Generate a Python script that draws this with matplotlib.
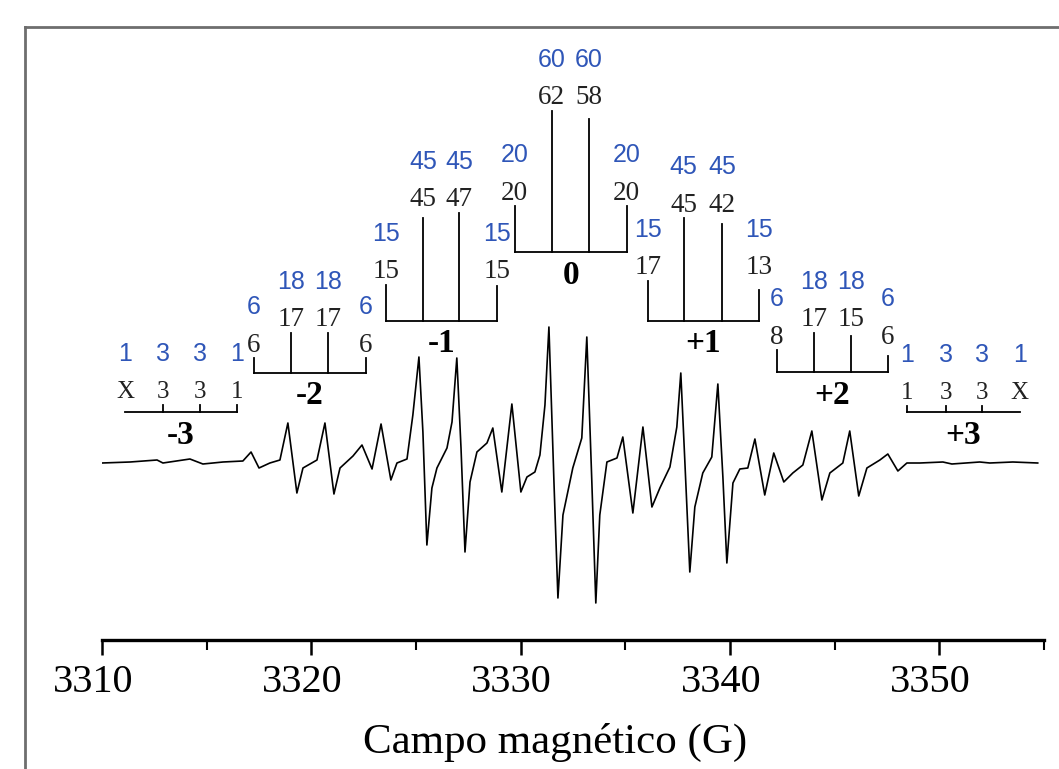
import matplotlib
matplotlib.use("Agg")
import matplotlib.pyplot as plt
from matplotlib.lines import Line2D
from matplotlib.transforms import ScaledTranslation

plt.rcParams['font.family'] = ['Liberation Serif', 'DejaVu Serif']

# espectro: campo (G) y senal (unidades arbitrarias)
campo = [3310.00, 3311.34, 3312.63, 3312.91, 3314.20, 3314.82, 3315.78, 3316.73,
         3317.12, 3317.50, 3318.02, 3318.50, 3318.88, 3319.31, 3319.60, 3320.27,
         3320.65, 3321.08, 3321.37, 3321.99, 3322.42, 3322.90, 3323.33, 3323.80,
         3324.09, 3324.57, 3324.85, 3325.14, 3325.33, 3325.52, 3325.76, 3326.00,
         3326.48, 3326.72, 3326.95, 3327.15, 3327.34, 3327.58, 3327.91, 3328.39,
         3328.67, 3329.10, 3329.58, 3330.01, 3330.30, 3330.68, 3330.92, 3331.16,
         3331.35, 3331.59, 3331.78, 3332.02, 3332.49, 3332.92, 3333.16, 3333.40,
         3333.59, 3333.78, 3334.12, 3334.60, 3334.88, 3335.36, 3335.84, 3336.27,
         3336.65, 3337.13, 3337.46, 3337.65, 3337.84, 3338.08, 3338.32, 3338.70,
         3339.13, 3339.42, 3339.66, 3339.85, 3340.14, 3340.47, 3340.85, 3341.19,
         3341.66, 3342.09, 3342.57, 3343.00, 3343.48, 3343.91, 3344.39, 3344.77,
         3345.39, 3345.72, 3346.15, 3346.54, 3347.16, 3347.54, 3348.02, 3348.45,
         3349.07, 3350.17, 3350.60, 3351.93, 3352.41, 3353.51, 3354.70]
senal = [0, 1, 3, 0, 4, -1, 1, 2,
         11, -5, 0, 3, 40, -30, -5, 3,
         40, -31, -5, 7, 18, -6, 39, -17,
         0, 4, 48, 106, 31, -82, -25, -5,
         15, 41, 105, 15, -89, -19, 11, 20,
         35, -29, 59, -29, -14, -9, 8, 58,
         136, -19, -135, -52, -5, 25, 126, -19,
         -140, -52, 1, 5, 26, -50, 36, -44,
         -25, -4, 36, 90, 3, -109, -44, -10,
         6, 79, -14, -100, -20, -6, -5, 24,
         -32, 10, -19, -10, -2, 32, -37, -10,
         0, 32, -33, -5, 3, 9, -8, 0,
         0, 1, -1, 1, 0, 1, 0]

# diagramas de barras
grupos = ['-3', '-2', '-1', '0', '+1', '+2', '+3']
pos_g3m = [3311.10, 3312.91, 3314.68, 3316.45]
pos_g2m = [3317.26, 3319.03, 3320.79, 3322.61]
pos_g1m = [3323.56, 3325.33, 3327.05, 3328.86]
pos_g0 = [3329.72, 3331.49, 3333.26, 3335.07]
pos_g1p = [3336.07, 3337.79, 3339.61, 3341.38]
pos_g2p = [3342.24, 3344.00, 3345.77, 3347.54]
pos_g3p = [3348.45, 3350.31, 3352.03, 3353.84]
posiciones = [pos_g3m, pos_g2m, pos_g1m, pos_g0, pos_g1p, pos_g2p, pos_g3p]
base_barra = [51, 90, 142, 211, 142, 91, 51]
alturas = [[0, 7, 7, 7], [15, 40, 40, 15], [36, 103, 108, 35], [46, 141, 133, 46],
           [40, 103, 97, 31], [22, 39, 36, 16], [6, 6, 6, 0]]
experimental = [['X', '3', '3', '1'], ['6', '17', '17', '6'], ['15', '45', '47', '15'],
                ['20', '62', '58', '20'], ['17', '45', '42', '13'], ['8', '17', '15', '6'],
                ['1', '3', '3', 'X']]
teorico = [['1', '3', '3', '1'], ['6', '18', '18', '6'], ['15', '45', '45', '15'],
           ['20', '60', '60', '20'], ['15', '45', '45', '15'], ['6', '18', '18', '6'],
           ['1', '3', '3', '1']]

azul = '#2f56b8'

fig = plt.figure(figsize=(10.59, 7.69), dpi=100)
ax = fig.add_axes([102 / 1059, 129 / 769, 942 / 1059, 613 / 769])

ax.plot(campo, senal, color='black', lw=1.2)

for i, g in enumerate(grupos):
    p = posiciones[i]
    b = base_barra[i]
    h = alturas[i]
    ax.plot([p[0], p[-1]], [b, b], color='black', lw=1.3)
    for x, hh in zip(p, h):
        if hh > 0:
            ax.plot([x, x], [b, b + hh], color='black', lw=1.3)
    top_ext = b + max(h[0], h[3])
    top_int = b + max(h[1], h[2])
    tops = [top_ext, top_int, top_int, top_ext]
    fs = 18 if g in ('-3', '+3') else 19.5
    for j in range(4):
        ax.text(p[j], tops[j] + 13, experimental[i][j], fontsize=fs,
                ha='center', va='center', color='#222222')
        ax.text(p[j], tops[j] + 51, teorico[i][j], fontsize=18,
                ha='center', va='center', color=azul,
                family=['Liberation Sans', 'DejaVu Sans'])
    ax.text((p[0] + p[-1]) / 2, b - 23, g, fontsize=24, fontweight='bold',
            ha='center', va='center')

ax.set_xlim(3310, 3355)
ax.set_ylim(-177, 436)
for s in ['left', 'right', 'top']:
    ax.spines[s].set_visible(False)
ax.spines['bottom'].set_linewidth(2.4)
ax.set_yticks([])
ax.set_xticks([3310, 3320, 3330, 3340, 3350])
ax.set_xticks([3315, 3325, 3335, 3345, 3355], minor=True)
ax.tick_params(axis='x', which='major', direction='out', length=11, width=1.8,
               labelsize=29, pad=6)
ax.tick_params(axis='x', which='minor', direction='out', length=7, width=1.5)
desplaza = ScaledTranslation(-9 / 100, 0, fig.dpi_scale_trans)
for lab in ax.get_xticklabels():
    lab.set_transform(lab.get_transform() + desplaza)

fig.text(555 / 1059, 1 - 742 / 769, 'Campo magnético (G)', fontsize=31,
         ha='center', va='center')

# marco gris
fx = 25 / 1059
fy = 1 - 27 / 769
fig.add_artist(Line2D([fx, fx], [-0.1, fy], transform=fig.transFigure,
                      color='#6e6e6e', lw=2))
fig.add_artist(Line2D([fx, 1.1], [fy, fy], transform=fig.transFigure,
                      color='#6e6e6e', lw=2))

fig.savefig('out.png', dpi=100)
